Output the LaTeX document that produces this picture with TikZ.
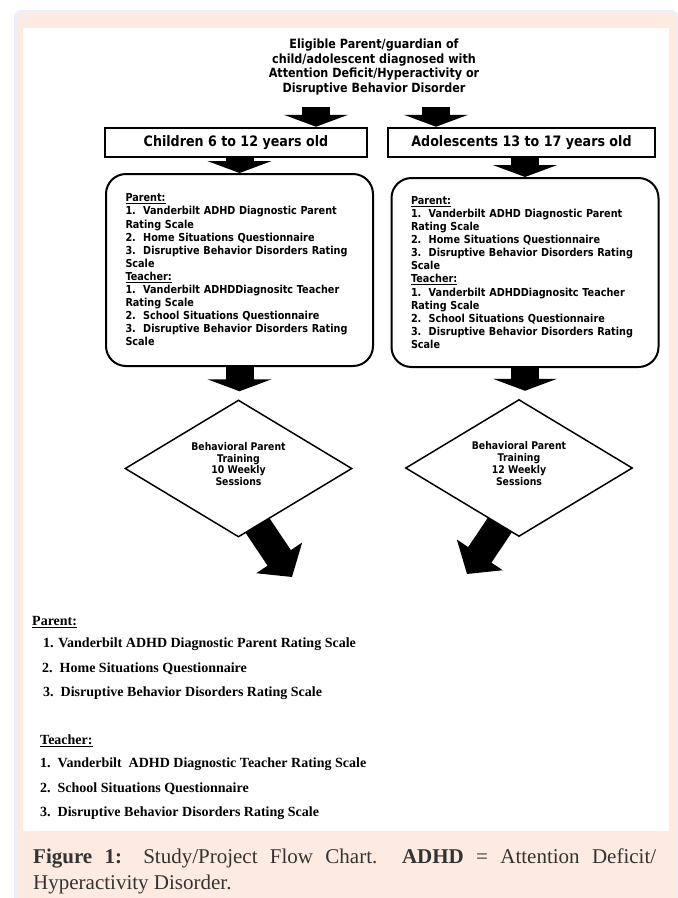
\documentclass[tikz,border=0pt]{standalone}
\usepackage{fontspec}
\setmainfont{Liberation Serif}
\newfontfamily\boxfont{DejaVu Sans}[FakeStretch=0.88]
\usepackage{xcolor}
\usetikzlibrary{arrows.meta,calc,positioning,shapes.geometric}
\definecolor{peach}{RGB}{253,235,225}
\definecolor{frameblue}{RGB}{236,239,247}
\definecolor{capgray}{RGB}{51,51,51}
\pgfdeclarelayer{back}
\pgfdeclarelayer{mid}
\pgfsetlayers{back,mid,main}
\newcommand\scalelist{\underline{Parent:}\\1.\ \ Vanderbilt ADHD Diagnostic Parent\\Rating Scale\\2.\ \ Home Situations Questionnaire\\3.\ \ Disruptive Behavior Disorders Rating\\Scale\\\underline{Teacher:}\\1.\ \ Vanderbilt ADHDDiagnositc Teacher\\Rating Scale\\2.\ \ School Situations Questionnaire\\3.\ \ Disruptive Behavior Disorders Rating\\Scale}
\tikzset{box/.style={draw,line width=2.5pt,minimum height=29pt,inner sep=0pt,font=\boxfont\bfseries\fontsize{14.4}{17}\selectfont},
  scalebox/.style={draw,line width=2pt,rounded corners=20pt,text width=228pt,inner xsep=19.5pt,inner ysep=0pt,align=left,font=\boxfont\bfseries\fontsize{11}{13.1}\selectfont},
  dia/.style={draw,diamond,line width=1.5pt,fill=white,aspect=1.65,inner sep=0pt,minimum width=227pt,minimum height=137pt,align=center,font=\boxfont\bfseries\fontsize{10.6}{11.8}\selectfont,execute at end node={\rule[-9pt]{0pt}{0pt}}},
  fat/.style={line width=28pt,-{Triangle[length=12pt,width=64pt]}},
  fatdiag/.style={line width=28pt,-{Triangle[length=23pt,width=54pt]}},
  listtxt/.style={anchor=base west,inner sep=0pt,font=\bfseries\fontsize{14}{24}\selectfont}}

\begin{document}
\begin{tikzpicture}[x=1pt,y=-1pt]
\useasboundingbox (0,0) rectangle (678,898);
\begin{pgfonlayer}{back}
\fill[frameblue,rounded corners=7pt] (14,10) rectangle (678,906);
\fill[peach,rounded corners=6pt] (17,12.5) rectangle (675,906);
\fill[white] (23,28) rectangle (669,831);
\end{pgfonlayer}

\node[align=center,font=\boxfont\bfseries\fontsize{12.7}{14.7}\selectfont] (elig) at (374,67)
  {Eligible Parent/guardian of\\child/adolescent diagnosed with\\Attention Deficit/Hyperactivity or\\Disruptive Behavior Disorder};
\node[box,minimum width=262pt] (grpL) at (236,142.5) {Children 6 to 12 years old};
\node[box,minimum width=267pt] (grpR) at (521.5,142.5) {Adolescents 13 to 17 years old};
\coordinate (splitL) at (316,107);
\coordinate (splitR) at (436,107);
\draw[fat] (splitL) -- (splitL |- grpL.north);
\draw[fat] (splitR) -- (splitR |- grpR.north);

\node[scalebox,minimum height=192pt] (scalesL) at (239.5,270) {\scalelist};
\node[scalebox,minimum height=189pt] (scalesR) at (525,272.5) {\scalelist};
\draw[fat] (scalesL.north |- grpL.south) -- (scalesL.north);
\draw[fat] (scalesR.north |- grpR.south) -- (scalesR.north);

\node[dia] (bptL) at (238.5,468.5) {Behavioral Parent\\Training\\10 Weekly\\Sessions};
\node[dia] (bptR) at (519,468) {Behavioral Parent\\Training\\12 Weekly\\Sessions};
\draw[fat,shorten >=8pt] (scalesL.south) -- (scalesL.south |- bptL.north);
\draw[fat,shorten >=8pt] (scalesR.south) -- (scalesR.south |- bptR.north);

\coordinate (outL) at (292,577);
\coordinate (outR) at (467,574);
\begin{pgfonlayer}{mid}
\draw[fatdiag] ([shift={(9,42)}]bptL.center) -- (outL);
\draw[fatdiag] ([shift={(-7.5,39.5)}]bptR.center) -- (outR);
\end{pgfonlayer}

\foreach \n/\x/\y/\t in {pa/32/625.5/\underline{Parent:},
  p1/43/647.5/1. Vanderbilt ADHD Diagnostic Parent Rating Scale,
  p2/42/672.5/2.\ \ Home Situations Questionnaire,
  p3/43/696.5/3.\ \ Disruptive Behavior Disorders Rating Scale,
  te/40/744.5/\underline{Teacher:},
  t1/40/767.5/1.\ \ Vanderbilt\ \ ADHD Diagnostic Teacher Rating Scale,
  t2/40/792.5/2.\ \ School Situations Questionnaire,
  t3/40/816.5/3.\ \ Disruptive Behavior Disorders Rating Scale}
  \node[listtxt] (\n) at (\x,\y) {\t};

\node[anchor=north west,text width=623pt,align=justify,inner sep=0pt,text=capgray,font=\fontsize{21}{26}\selectfont] (cap) at (33,849)
  {\textbf{Figure 1:} Study/Project Flow Chart.\ \ \textbf{ADHD} = Attention Deficit/\linebreak Hyperactivity Disorder.};
\end{tikzpicture}
\end{document}
